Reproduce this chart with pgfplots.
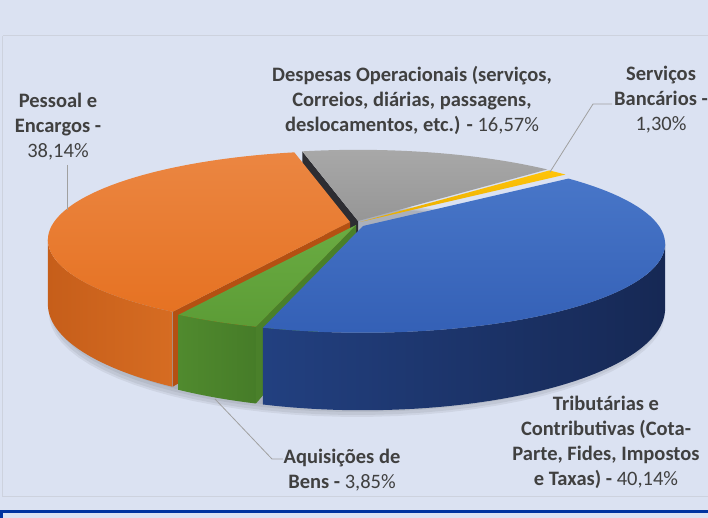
\documentclass[border=0pt]{standalone}
\usepackage{pgfplots}
\usepackage{pgfplotstable}
\pgfplotsset{compat=1.18}
\usepackage{fontspec}
\setmainfont{Carlito}

\definecolor{bg}{RGB}{219,226,242}
\definecolor{bordercol}{RGB}{205,210,222}
\definecolor{navy}{RGB}{0,51,160}
\definecolor{txt}{RGB}{64,64,64}
\definecolor{leader}{RGB}{160,160,160}
\definecolor{orTop1}{RGB}{235,134,66}
\definecolor{orTop2}{RGB}{230,114,34}
\definecolor{orSide1}{RGB}{198,94,26}
\definecolor{orSide2}{RGB}{214,108,34}
\definecolor{orFace}{RGB}{180,80,18}
\definecolor{grTop1}{RGB}{106,172,66}
\definecolor{grTop2}{RGB}{92,156,54}
\definecolor{grSide1}{RGB}{80,138,46}
\definecolor{grSide2}{RGB}{70,124,40}
\definecolor{grFace}{RGB}{74,128,42}
\definecolor{blTop1}{RGB}{72,118,200}
\definecolor{blTop2}{RGB}{52,96,182}
\definecolor{blSide1}{RGB}{34,64,128}
\definecolor{blSide2}{RGB}{22,40,84}
\definecolor{gyTop1}{RGB}{168,168,168}
\definecolor{gyTop2}{RGB}{150,150,150}
\definecolor{gyFace}{RGB}{45,45,50}
\definecolor{ylTop1}{RGB}{255,196,10}
\definecolor{ylTop2}{RGB}{232,172,0}

% values in clockwise order, starting at the top
\pgfplotstableread{
idx value
0 16.57
1 1.30
2 40.14
3 3.85
4 38.14
}\piedata

\pgfplotstablegetelem{0}{value}\of\piedata\let\vA\pgfplotsretval
\pgfplotstablegetelem{1}{value}\of\piedata\let\vB\pgfplotsretval
\pgfplotstablegetelem{2}{value}\of\piedata\let\vC\pgfplotsretval
\pgfplotstablegetelem{3}{value}\of\piedata\let\vD\pgfplotsretval
\pgfplotstablegetelem{4}{value}\of\piedata\let\vE\pgfplotsretval

\pgfmathsetmacro\tA{-13}
\pgfmathsetmacro\tB{\tA+3.6*\vA}
\pgfmathsetmacro\tC{\tB+3.6*\vB}
\pgfmathsetmacro\tD{\tC+3.6*\vC}
\pgfmathsetmacro\tE{\tD+3.6*\vD}
\pgfmathsetmacro\tF{\tE+3.6*\vE}
\pgfmathsetmacro\bwS{max(\tC,101.5)}
\pgfmathsetmacro\owE{min(\tF,258.5)}

\def\cx{358}
\def\cy{295}
\def\A{296}
\def\B{85.4}
\def\k{0.2}
\def\H{62}

% top face: #1 start, #2 end, #3 dx, #4 dy, #5 style
\newcommand\topface[5]{%
  \path[#5] (axis cs:{\cx+#3},{\cy+#4}) -- plot[variable=\q,domain=#1:#2,samples=60]
   (axis cs:{\cx+#3+\A*sin(\q)/(1+\k*cos(\q))},{\cy+#4+\B*cos(\q)/(1+\k*cos(\q))}) -- cycle;}
% outer wall
\newcommand\wall[5]{%
  \path[#5] plot[variable=\q,domain=#1:#2,samples=60]
   (axis cs:{\cx+#3+\A*sin(\q)/(1+\k*cos(\q))},{\cy+#4+\B*cos(\q)/(1+\k*cos(\q))})
   -- plot[variable=\q,domain=#2:#1,samples=60]
   (axis cs:{\cx+#3+\A*sin(\q)/(1+\k*cos(\q))},{\cy+#4+(\B*cos(\q)-\H)/(1+\k*cos(\q))}) -- cycle;}
% radial cut face: #1 angle, #2 dx, #3 dy, #4 style
\newcommand\cutface[4]{%
  \path[#4] (axis cs:{\cx+#2},{\cy+#3})
   -- (axis cs:{\cx+#2+\A*sin(#1)/(1+\k*cos(#1))},{\cy+#3+\B*cos(#1)/(1+\k*cos(#1))})
   -- (axis cs:{\cx+#2+\A*sin(#1)/(1+\k*cos(#1))},{\cy+#3+(\B*cos(#1)-\H)/(1+\k*cos(#1))})
   -- (axis cs:{\cx+#2},{\cy+#3-\H}) -- cycle;}
% shadow ring: #1 scale, #2 dy
\newcommand\shadowring[2]{%
  \fill[black,opacity=0.06] plot[variable=\q,domain=0:360,samples=90]
   (axis cs:{\cx-1+#1*\A*sin(\q)/(1+\k*cos(\q))},{\cy-#2+#1*(\B*cos(\q)-\H)/(1+\k*cos(\q))}) -- cycle;}

\begin{document}
\begin{tikzpicture}
\useasboundingbox (0,0) rectangle (708pt,518pt);
\begin{axis}[x=1pt,y=1pt,xmin=0,xmax=708,ymin=0,ymax=518,hide axis,clip=false]
% background and frame
\fill[bg] (axis cs:0,0) rectangle (axis cs:708,518);
\draw[bordercol,line width=1pt] (axis cs:2.5,21) -- (axis cs:2.5,482);
\draw[bordercol,line width=1pt] (axis cs:2.5,482) -- (axis cs:708,482);
\draw[bordercol,line width=1pt] (axis cs:2.5,21) -- (axis cs:708,21);
\fill[navy] (axis cs:0,5) rectangle (axis cs:708,8);
\fill[navy] (axis cs:0,0) rectangle (axis cs:2.5,8);

% shadow
\shadowring{1.00}{2}
\shadowring{1.01}{3}
\shadowring{1.015}{5}
\shadowring{1.02}{6}

% back slices
\cutface{\tA}{0}{2}{fill=gyFace}
\topface{\tA}{\tB}{0}{2}{top color=gyTop1,bottom color=gyTop2}
\topface{\tB}{\tC}{2}{1}{top color=ylTop1,bottom color=ylTop2}
% cut faces partly hidden by the front slices
\cutface{\tE}{-8}{1}{fill=orFace}
\cutface{\tD}{-2}{-2}{fill=grFace}
% blue
\wall{\bwS}{\tD}{5}{-3}{left color=blSide1,right color=blSide2}
\topface{\tC}{\tD}{5}{-3}{top color=blTop1,bottom color=blTop2}
% orange
\wall{\tE}{\owE}{-8}{1}{left color=orSide1,right color=orSide2}
\topface{\tE}{\tF}{-8}{1}{top color=orTop1,bottom color=orTop2}
% green
\wall{\tD}{\tE}{-2}{-2}{left color=grSide1,right color=grSide2}
\topface{\tD}{\tE}{-2}{-2}{top color=grTop1,bottom color=grTop2}

% leader lines
\draw[leader,line width=0.8pt] (axis cs:67,353) -- (axis cs:67,308);
\draw[leader,line width=0.8pt] (axis cs:550,346) -- (axis cs:593,414) -- (axis cs:612,414);
\draw[leader,line width=0.8pt] (axis cs:215,119) -- (axis cs:272,59) -- (axis cs:283,59);

% labels
\tikzset{lbl/.style={text=txt,align=center,font=\fontsize{20.5}{25}\selectfont,inner sep=0pt}}
\node[lbl] at (axis cs:58,391) {\textbf{Pessoal e}\\\textbf{Encargos -}\\38,14\%};
\node[lbl] at (axis cs:412,418) {\textbf{Despesas Operacionais (serviços,}\\\textbf{Correios, diárias, passagens,}\\\textbf{deslocamentos, etc.) -} 16,57\%};
\node[lbl] at (axis cs:661,418) {\textbf{Serviços}\\\textbf{Bancários -}\\1,30\%};
\node[lbl] at (axis cs:342,47.5) {\textbf{Aquisições de}\\\textbf{Bens -} 3,85\%};
\node[lbl] at (axis cs:606,75.5) {\textbf{Tributárias e}\\\textbf{Contributivas (Cota-}\\\textbf{Parte, Fides, Impostos}\\\textbf{e Taxas) -} 40,14\%};
\end{axis}
\end{tikzpicture}
\end{document}
